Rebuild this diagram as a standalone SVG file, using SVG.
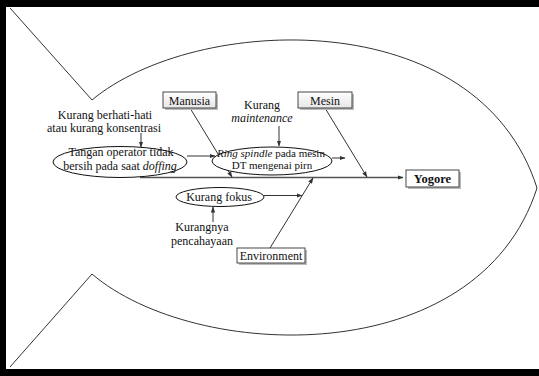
<svg xmlns="http://www.w3.org/2000/svg" width="539" height="376" viewBox="0 0 539 376">
<defs>
<marker id="ah" markerWidth="6" markerHeight="6" refX="5.5" refY="3" orient="auto" markerUnits="userSpaceOnUse"><path d="M0,0.8 L6,3 L0,5.2 Z" fill="#333"/></marker>
<linearGradient id="gb" x1="0" y1="0" x2="0" y2="1"><stop offset="0" stop-color="#ffffff"/><stop offset="1" stop-color="#e6e6e6"/></linearGradient>
</defs>
<style>
text{font-family:"Liberation Serif","Times New Roman",serif;font-size:12px;fill:#111}
.c{text-anchor:middle}
.it{font-style:italic}
.fish{fill:none;stroke:#333;stroke-width:1}
.box{fill:#fff;stroke:#333;stroke-width:0.9}
.gbox{fill:url(#gb);stroke:#333;stroke-width:0.9}
.sh{fill:#bbb}
.el{fill:#fff;stroke:#111;stroke-width:1}
.ln{stroke:#333;stroke-width:1;fill:none}
.sp{stroke:#555;stroke-width:1.6;fill:none}
</style>
<rect x="0" y="0" width="539" height="376" fill="#fff"/>
<rect x="0" y="0" width="539" height="7" fill="#000"/>
<rect x="0" y="0" width="6" height="376" fill="#000"/>
<rect x="0" y="369" width="539" height="7" fill="#000"/>
<g id="fish">
<path class="fish" d="M10,8 L92,100 C195,14 478,2 537,188 C478,372 195,362 92,274 L10,367"/>
</g>
<g id="connectors">
<line class="sp" x1="140" y1="177.5" x2="403" y2="177.5" marker-end="url(#ah)"/>
<line class="ln" x1="190" y1="108" x2="232" y2="177" marker-end="url(#ah)"/>
<line class="ln" x1="325" y1="108" x2="367" y2="177" marker-end="url(#ah)"/>
<line class="ln" x1="270" y1="248" x2="313" y2="178" marker-end="url(#ah)"/>
<line class="ln" x1="141" y1="133" x2="141" y2="147" marker-end="url(#ah)"/>
<line class="ln" x1="187" y1="156" x2="215" y2="156" marker-end="url(#ah)"/>
<line class="ln" x1="279" y1="126" x2="279" y2="146" marker-end="url(#ah)"/>
<line class="ln" x1="332" y1="158" x2="345" y2="158" marker-end="url(#ah)"/>
<line class="ln" x1="264" y1="195.5" x2="302" y2="195.5" marker-end="url(#ah)"/>
<line class="ln" x1="213" y1="222" x2="213" y2="207" marker-end="url(#ah)"/>
</g>
<g id="manusia">
<rect class="sh" x="165" y="94" width="53" height="16"/>
<rect class="gbox" x="163" y="92" width="53" height="16"/>
<text class="c" x="189.5" y="104.5">Manusia</text>
</g>
<g id="mesin">
<rect class="sh" x="300" y="94" width="54" height="16"/>
<rect class="gbox" x="298" y="92" width="54" height="16"/>
<text class="c" x="325" y="104.5">Mesin</text>
</g>
<g id="environment">
<rect class="sh" x="239" y="250" width="68" height="15"/>
<rect class="box" x="237" y="248" width="68" height="15"/>
<text class="c" x="271" y="260">Environment</text>
</g>
<g id="yogore">
<rect class="sh" x="408" y="172" width="53" height="17"/>
<rect class="box" x="406" y="170" width="53" height="17"/>
<text class="c" x="432.5" y="183" font-weight="bold" style="font-size:12.5px">Yogore</text>
</g>
<g id="kurang-berhati">
<text class="c" x="105" y="119">Kurang berhati-hati</text>
<text class="c" x="104" y="132">atau kurang konsentrasi</text>
</g>
<g id="tangan">
<ellipse class="el" cx="120" cy="162" rx="67" ry="15.5"/>
<text class="c" x="121" y="156">Tangan operator tidak</text>
<text class="c" x="120" y="169.5">bersih pada saat <tspan class="it">doffing</tspan></text>
</g>
<g id="kurang-maintenance">
<text class="c" x="262" y="109">Kurang</text>
<text class="c it" x="262" y="122">maintenance</text>
</g>
<g id="ring-spindle">
<ellipse class="el" cx="272" cy="161" rx="60" ry="14"/>
<text class="c" x="271" y="157" style="font-size:11px"><tspan class="it">Ring spindle</tspan> pada mesin</text>
<text class="c" x="272" y="169" style="font-size:11px">DT mengenai pirn</text>
</g>
<g id="kurang-fokus">
<ellipse class="el" cx="220" cy="197" rx="44" ry="9.5"/>
<text class="c" x="219" y="201">Kurang fokus</text>
</g>
<g id="kurangnya">
<text class="c" x="202" y="231">Kurangnya</text>
<text class="c" x="202" y="245">pencahayaan</text>
</g>
</svg>
